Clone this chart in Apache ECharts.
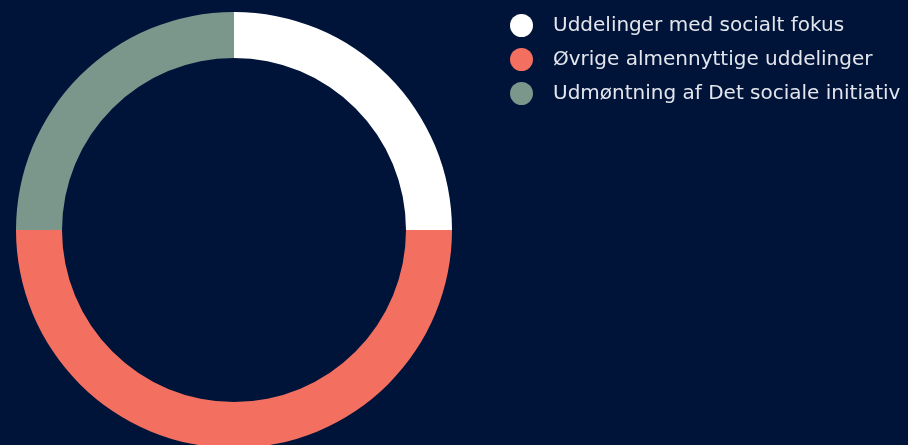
<!DOCTYPE html>
<html>
<head>
<meta charset="utf-8">
<style>
    html, body { margin: 0; padding: 0; background: #00143a; }
    #chart { width: 908px; height: 445px; }
</style>
<script src="https://cdn.jsdelivr.net/npm/echarts@6/dist/echarts.min.js"></script>
</head>
<body>
<div id="chart"></div>
<script>
    // kategorier og andele (aflæst: 1/4, 1/2, 1/4)
    var categories = ['Uddelinger med socialt fokus', 'Øvrige almennyttige uddelinger', 'Udmøntning af Det sociale initiativ'];
    var values = [25, 50, 25];
    var colors = ['#ffffff', '#f37060', '#7b978c'];

    var data = [];
    for (var i = 0; i < categories.length; i++) {
        data.push({ name: categories[i], value: values[i], itemStyle: { color: colors[i] } });
    }

    var chart = echarts.init(document.getElementById('chart'));
    chart.setOption({
        backgroundColor: '#00143a',
        animation: false,
        legend: {
            orient: 'vertical',
            left: 505,
            top: 9,
            icon: 'circle',
            itemWidth: 23,
            itemHeight: 23,
            itemGap: 11,
            textStyle: {
                color: '#e3e6ec',
                fontSize: 20,
                fontFamily: 'DejaVu Sans',
                fontWeight: 'normal',
                padding: [0, 0, 0, 15]
            },
            data: categories
        },
        series: [{
            type: 'pie',
            center: [234, 230],
            radius: [172, 218],
            startAngle: 90,
            clockwise: true,
            label: { show: false },
            labelLine: { show: false },
            emphasis: { disabled: true },
            silent: true,
            data: data
        }]
    });
</script>
</body>
</html>
